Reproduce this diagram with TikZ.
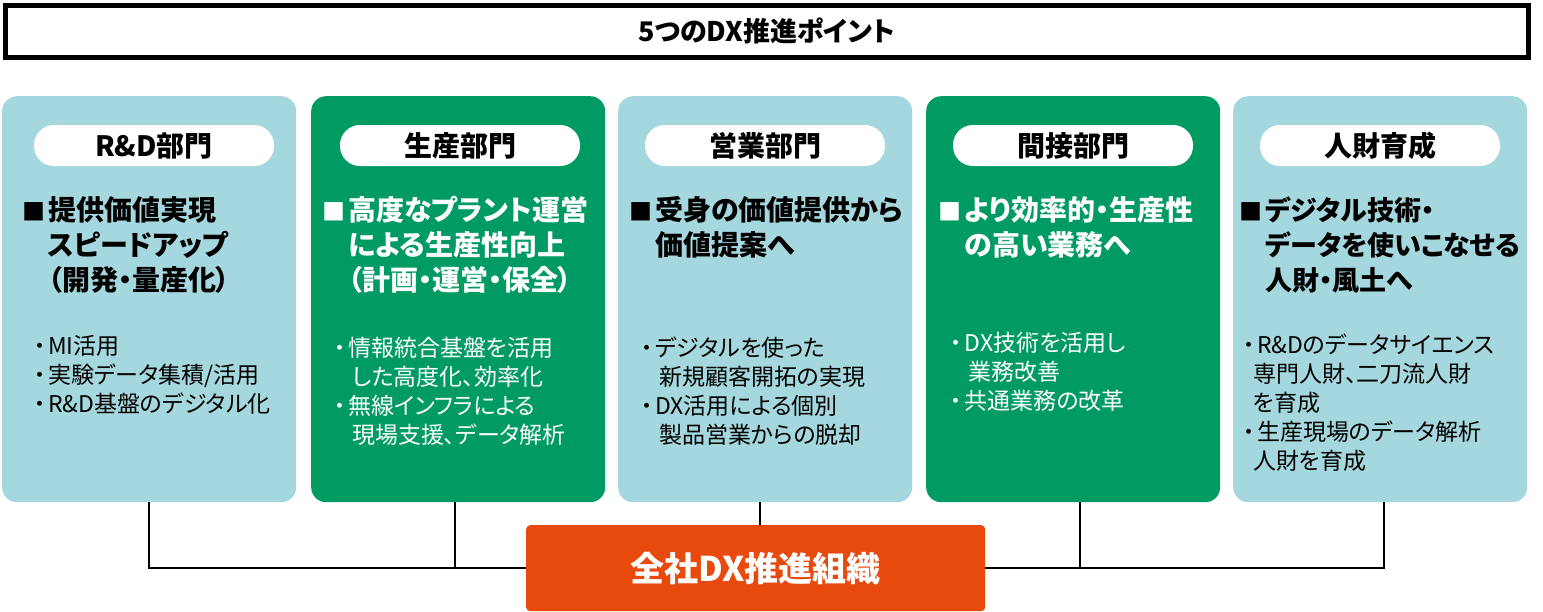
\documentclass[tikz,border=0pt]{standalone}
\usepackage{fontspec}
\setmainfont{Noto Sans CJK JP}[RawFeature=+palt]
\definecolor{lblue}{HTML}{A5D7DE}
\definecolor{dgreen}{HTML}{009B63}
\definecolor{orng}{HTML}{E8490C}
\newcommand\hmark{\makebox[24pt][l]{\hspace{-2pt}{\fontsize{23}{35}\selectfont ■}}}
\newcommand\hind{\hspace*{24pt}}
\newcommand\bmark{\makebox[17pt][c]{・}}
\newcommand\bind[1]{\hspace*{#1}}
\begin{document}
\begin{tikzpicture}[x=1pt,y=-1pt,
  colbox/.style={rounded corners=15pt, minimum width=294pt, minimum height=406pt, inner sep=0pt, anchor=north west},
  lb/.style={colbox, fill=lblue},
  gb/.style={colbox, fill=dgreen},
  pill/.style={fill=white, rounded corners=20pt, minimum width=240pt, minimum height=41pt, inner sep=0pt, font=\bfseries\fontsize{28}{30}\selectfont},
  head/.style={anchor=base west, inner sep=0pt, font=\bfseries\fontsize{28}{35}\selectfont},
  bul/.style={anchor=base west, inner sep=0pt, font=\fontsize{23}{29}\selectfont},
  conn/.style={line width=1.5pt, black}]
\useasboundingbox (0,0) rectangle (1543,611);
% title
\node[draw=black, line width=5pt, minimum width=1523.5pt, minimum height=52pt, inner sep=0pt, anchor=north west, font=\bfseries\fontsize{27}{30}\selectfont] (title) at (2.5,2.5) {5つのDX推進ポイント};
% columns
\node[lb] (c1) at (2,96) {};
\node[gb] (c2) at (311,96) {};
\node[lb] (c3) at (618,96) {};
\node[gb] (c4) at (926,96) {};
\node[lb] (c5) at (1233,96) {};
% pills
\node[pill] (p1) at (154,145.5) {R\&D部門};
\node[pill] (p2) at (460,145.5) {生産部門};
\node[pill] (p3) at (765,145.5) {営業部門};
\node[pill] (p4) at (1073,145.5) {間接部門};
\node[pill] (p5) at (1380,145.5) {人財育成};
% headings
\node[head] (h1) at (24,220) {\parbox[t]{300pt}{\hmark 提供価値実現\\\hind スピードアップ\\\hind （開発・量産化）}};
\node[head, text=white] (h2) at (324,220) {\parbox[t]{300pt}{\hmark 高度なプラント運営\\\hind による生産性向上\\\hind （計画・運営・保全）}};
\node[head] (h3) at (631,220) {\parbox[t]{300pt}{\hmark 受身の価値提供から\\\hind 価値提案へ}};
\node[head, text=white] (h4) at (940.5,220) {\parbox[t]{300pt}{\hmark より効率的・生産性\\\hind の高い業務へ}};
\node[head, font=\bfseries\fontsize{27}{35}\selectfont] (h5) at (1241,220) {\parbox[t]{300pt}{\hmark デジタル技術・\\\hind データを使いこなせる\\\hind 人財・風土へ}};
% bullets
\node[bul] (b1) at (31,354) {\parbox[t]{300pt}{\bmark MI活用\\\bmark 実験データ集積/活用\\\bmark R\&D基盤のデジタル化}};
\node[bul, text=white] (b2) at (331,356) {\parbox[t]{300pt}{\bmark 情報統合基盤を活用\\\bind{21pt}した高度化、効率化\\\bmark 無線インフラによる\\\bind{21pt}現場支援、データ解析}};
\node[bul] (b3) at (638,356) {\parbox[t]{300pt}{\bmark デジタルを使った\\\bind{21pt}新規顧客開拓の実現\\\bmark DX活用による個別\\\bind{21pt}製品営業からの脱却}};
\node[bul, text=white] (b4) at (947.5,351) {\parbox[t]{300pt}{\bmark DX技術を活用し\\\bind{21pt}業務改善\\\bmark 共通業務の改革}};
\node[bul] (b5) at (1240,353) {\parbox[t]{300pt}{\bmark R\&Dのデータサイエンス\\\bind{13pt}専門人財、二刀流人財\\\bind{13pt}を育成\\\bmark 生産現場のデータ解析\\\bind{13pt}人財を育成}};
% central organisation
\node[fill=orng, rounded corners=4pt, minimum width=459pt, minimum height=86pt, inner sep=0pt, anchor=north west, text=white, font=\bfseries\fontsize{34}{36}\selectfont] (org) at (526,525) {全社DX推進組織};
% connectors
\draw[conn] (c1.south) |- (org.west);
\draw[conn] ([xshift=-3pt]c2.south) -- ([xshift=-3pt]c2.south |- org.west);
\draw[conn] ([xshift=-5pt]c3.south) -- ([xshift=-5pt]c3.south |- org.north);
\draw[conn] ([xshift=7pt]c4.south) -- ([xshift=7pt]c4.south |- org.east);
\draw[conn] ([xshift=4pt]c5.south) |- (org.east);
\end{tikzpicture}
\end{document}
